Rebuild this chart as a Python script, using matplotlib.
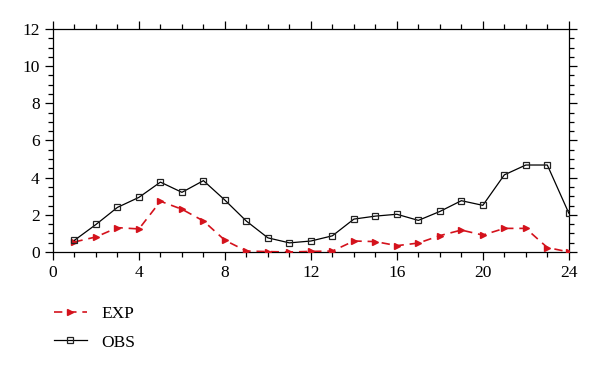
import matplotlib
matplotlib.use("Agg")
import matplotlib.pyplot as plt
from matplotlib.ticker import MultipleLocator

hours = list(range(1, 25))
obs = [0.63, 1.48, 2.40, 2.94, 3.76, 3.21, 3.84, 2.79, 1.66, 0.76, 0.49, 0.59,
       0.87, 1.77, 1.93, 2.03, 1.70, 2.18, 2.76, 2.51, 4.15, 4.68, 4.68, 2.09]
exp = [0.54, 0.81, 1.31, 1.24, 2.73, 2.30, 1.67, 0.63, 0.05, 0.02, 0.0, 0.03,
       0.05, 0.59, 0.56, 0.34, 0.48, 0.88, 1.18, 0.91, 1.27, 1.27, 0.24, 0.0]
xticks = [0, 4, 8, 12, 16, 20, 24]
yticks = [0, 2, 4, 6, 8, 10, 12]

plt.rcParams['font.family'] = ['Liberation Serif', 'DejaVu Serif']

fig = plt.figure(figsize=(6, 3.67), dpi=100)
ax = fig.add_axes([0.0883, 0.3134, 0.948 - 0.0883, 0.921 - 0.3134])

red = '#d4121c'
l1, = ax.plot(hours, exp, linestyle=(0, (5, 3.5)), color=red, lw=1.2,
              marker='>', markersize=5, markerfacecolor=red, markeredgecolor=red,
              label='EXP', zorder=3)
l2, = ax.plot(hours, obs, linestyle='-', color='black', lw=0.9,
              marker='s', markersize=4.5, markerfacecolor='none',
              markeredgecolor='#222222', markeredgewidth=0.9, label='OBS', zorder=4)

ax.set_xlim(0, 24)
ax.set_ylim(0, 12)
ax.set_xticks(xticks)
ax.set_yticks(yticks)
ax.xaxis.set_minor_locator(MultipleLocator(1))
ax.yaxis.set_minor_locator(MultipleLocator(0.5))
ax.tick_params(which='both', direction='out', top=True, right=True,
               labeltop=False, labelright=False, labelsize=12.5, width=0.9)
ax.tick_params(which='major', length=6)
ax.tick_params(which='minor', length=3.5)
for s in ax.spines.values():
    s.set_linewidth(0.9)

fig.legend(handles=[l1, l2], loc='upper left', bbox_to_anchor=(0.078, 0.185),
           frameon=False, fontsize=12.5, handlelength=1.9, handletextpad=0.85,
           labelspacing=0.7, borderaxespad=0)

fig.savefig('out.png', dpi=100)
